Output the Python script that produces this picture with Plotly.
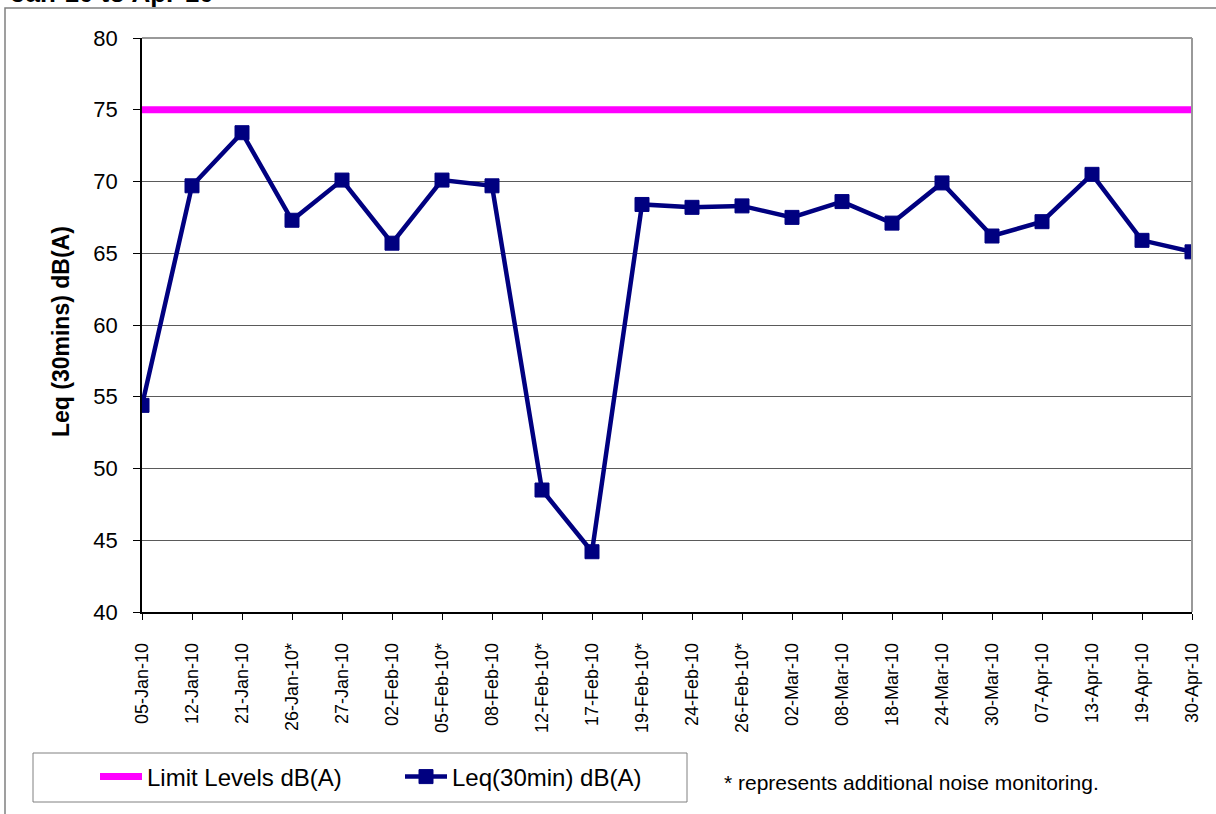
import plotly.graph_objects as go

dates = ["05-Jan-10", "12-Jan-10", "21-Jan-10", "26-Jan-10*", "27-Jan-10", "02-Feb-10",
         "05-Feb-10*", "08-Feb-10", "12-Feb-10*", "17-Feb-10", "19-Feb-10*", "24-Feb-10",
         "26-Feb-10*", "02-Mar-10", "08-Mar-10", "18-Mar-10", "24-Mar-10", "30-Mar-10",
         "07-Apr-10", "13-Apr-10", "19-Apr-10", "30-Apr-10"]
leq = [54.4, 69.7, 73.4, 67.3, 70.1, 65.7, 70.1, 69.7, 48.5, 44.2, 68.4, 68.2,
       68.3, 67.5, 68.6, 67.1, 69.9, 66.2, 67.2, 70.5, 65.9, 65.1]
limit = [75] * len(dates)
y_ticks = [40, 45, 50, 55, 60, 65, 70, 75, 80]

W, H = 1216, 814
L, R, T, B = 142, 24, 38, 202
PW, PH = W - L - R, H - T - B

def px(x):
    return (x - L) / PW

def py(y):
    return (H - B - y) / PH

FONT = "Liberation Sans, Arial, sans-serif"

fig = go.Figure()
fig.add_trace(go.Scatter(x=dates, y=limit, mode="lines", name="Limit Levels dB(A)",
                         line=dict(color="#FF00FF", width=7), hoverinfo="skip"))
fig.add_trace(go.Scatter(x=dates, y=leq, mode="lines+markers", name="Leq(30min) dB(A)",
                         line=dict(color="#000080", width=4.5),
                         marker=dict(symbol="square", size=14, color="#000080",
                                     line=dict(color="#000080", width=1))))

shapes = [
    # outer chart frame
    dict(type="rect", xref="paper", yref="paper", x0=px(5), x1=px(1230), y0=py(830), y1=py(8),
         line=dict(color="#808080", width=1.5), layer="below"),
    # plot area top/right borders
    dict(type="line", xref="paper", yref="paper", x0=0, x1=1, y0=1, y1=1,
         line=dict(color="#999999", width=2)),
    dict(type="line", xref="paper", yref="paper", x0=1, x1=1, y0=0, y1=1,
         line=dict(color="#999999", width=2)),
    # legend box
    dict(type="rect", xref="paper", yref="paper", x0=px(33), x1=px(687), y0=py(802), y1=py(753),
         line=dict(color="#808080", width=1)),
]

annotations = [
    dict(text="<b>Jan-10 to Apr-10</b>", xref="paper", yref="paper", x=px(9), y=py(-7),
         xanchor="left", yanchor="middle", showarrow=False,
         font=dict(family=FONT, size=26, color="black")),
    dict(text="<b>Leq (30mins) dB(A)</b>", xref="paper", yref="paper", x=px(61), y=py(332),
         xanchor="center", yanchor="middle", textangle=-90, showarrow=False,
         font=dict(family=FONT, size=23, color="black")),
    dict(text="* represents additional noise monitoring.", xref="paper", yref="paper",
         x=px(722), y=py(782), xanchor="left", yanchor="middle", showarrow=False,
         font=dict(family=FONT, size=21, color="black")),
]

fig.update_layout(
    width=W, height=H,
    margin=dict(l=L, r=R, t=T, b=B, autoexpand=False),
    paper_bgcolor="white", plot_bgcolor="white",
    font=dict(family=FONT, color="black"),
    showlegend=True,
    legend=dict(orientation="h", x=px(95), y=py(777), xanchor="left", yanchor="middle",
                font=dict(family=FONT, size=24, color="black"),
                itemwidth=42, entrywidth=248, entrywidthmode="pixels",
                bgcolor="rgba(0,0,0,0)", borderwidth=0),
    xaxis=dict(type="category", range=[0, len(dates) - 1], tickangle=-90,
               tickfont=dict(family=FONT, size=18), ticks="outside", ticklen=6,
               tickcolor="black", ticklabelstandoff=16, showline=True, linecolor="black",
               linewidth=1.5, showgrid=False, zeroline=False),
    yaxis=dict(range=[40, 80], tickvals=y_ticks, tickfont=dict(family=FONT, size=22),
               ticks="outside", ticklen=7, tickcolor="black", ticklabelstandoff=11,
               showline=True, linecolor="black", linewidth=1.5, showgrid=True,
               gridcolor="#5a5a5a", gridwidth=1, zeroline=False),
    shapes=shapes,
    annotations=annotations,
)

fig.write_html("out.html", config={"displayModeBar": False},
               post_script="document.body.style.margin='0px';")
